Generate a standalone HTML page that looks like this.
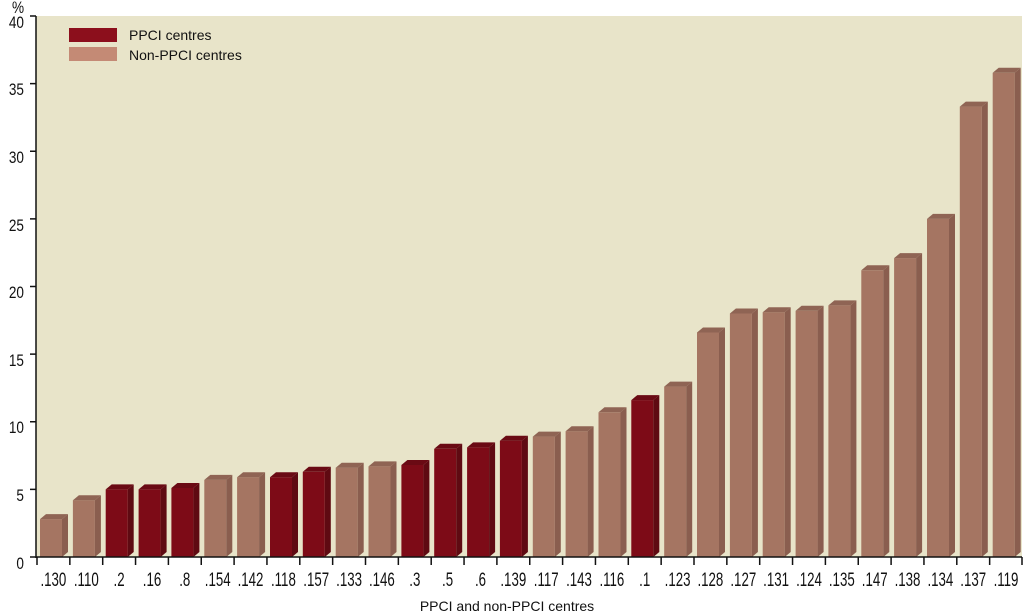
<!DOCTYPE html>
<html><head><meta charset="utf-8"><style>
html,body{margin:0;padding:0;background:#fff;}
svg{display:block;font-family:"Liberation Sans",sans-serif;}
.n rect{fill:#a57562}.n .s{fill:#8a5e4f}.n .t{fill:#8f6454}
.p rect{fill:#7d0b17}.p .s{fill:#5f0a12}.p .t{fill:#6a0a14}
.xl text{font-size:19px;text-anchor:middle;fill:#111;transform-box:fill-box;transform-origin:center;transform:scaleX(0.7);}
.yl text{font-size:17px;text-anchor:end;fill:#111;transform-box:fill-box;transform-origin:right center;transform:scaleX(0.8);}
</style></head><body>
<svg width="1033" height="615" viewBox="0 0 1033 615">
<rect x="36" y="16" width="986" height="541" fill="#e8e4c9"/>
<g class="n"><g transform="translate(40,519.1)"><rect width="22" height="37.9"/><polygon class="s" points="22,0 28,-5 28,32.9 22,37.9"/><polygon class="t" points="0,0 6,-5 28,-5 22,0"/></g></g>
<g class="n"><g transform="translate(72.9,500.2)"><rect width="22" height="56.8"/><polygon class="s" points="22,0 28,-5 28,51.8 22,56.8"/><polygon class="t" points="0,0 6,-5 28,-5 22,0"/></g></g>
<g class="p"><g transform="translate(105.7,489.4)"><rect width="22" height="67.6"/><polygon class="s" points="22,0 28,-5 28,62.6 22,67.6"/><polygon class="t" points="0,0 6,-5 28,-5 22,0"/></g></g>
<g class="p"><g transform="translate(138.6,489.4)"><rect width="22" height="67.6"/><polygon class="s" points="22,0 28,-5 28,62.6 22,67.6"/><polygon class="t" points="0,0 6,-5 28,-5 22,0"/></g></g>
<g class="p"><g transform="translate(171.4,488)"><rect width="22" height="69"/><polygon class="s" points="22,0 28,-5 28,64 22,69"/><polygon class="t" points="0,0 6,-5 28,-5 22,0"/></g></g>
<g class="n"><g transform="translate(204.3,479.9)"><rect width="22" height="77.1"/><polygon class="s" points="22,0 28,-5 28,72.1 22,77.1"/><polygon class="t" points="0,0 6,-5 28,-5 22,0"/></g></g>
<g class="n"><g transform="translate(237.1,477.2)"><rect width="22" height="79.8"/><polygon class="s" points="22,0 28,-5 28,74.8 22,79.8"/><polygon class="t" points="0,0 6,-5 28,-5 22,0"/></g></g>
<g class="p"><g transform="translate(270,477.2)"><rect width="22" height="79.8"/><polygon class="s" points="22,0 28,-5 28,74.8 22,79.8"/><polygon class="t" points="0,0 6,-5 28,-5 22,0"/></g></g>
<g class="p"><g transform="translate(302.8,471.8)"><rect width="22" height="85.2"/><polygon class="s" points="22,0 28,-5 28,80.2 22,85.2"/><polygon class="t" points="0,0 6,-5 28,-5 22,0"/></g></g>
<g class="n"><g transform="translate(335.7,467.7)"><rect width="22" height="89.3"/><polygon class="s" points="22,0 28,-5 28,84.3 22,89.3"/><polygon class="t" points="0,0 6,-5 28,-5 22,0"/></g></g>
<g class="n"><g transform="translate(368.5,466.4)"><rect width="22" height="90.6"/><polygon class="s" points="22,0 28,-5 28,85.6 22,90.6"/><polygon class="t" points="0,0 6,-5 28,-5 22,0"/></g></g>
<g class="p"><g transform="translate(401.4,465)"><rect width="22" height="92"/><polygon class="s" points="22,0 28,-5 28,87 22,92"/><polygon class="t" points="0,0 6,-5 28,-5 22,0"/></g></g>
<g class="p"><g transform="translate(434.2,448.8)"><rect width="22" height="108.2"/><polygon class="s" points="22,0 28,-5 28,103.2 22,108.2"/><polygon class="t" points="0,0 6,-5 28,-5 22,0"/></g></g>
<g class="p"><g transform="translate(467.1,447.4)"><rect width="22" height="109.6"/><polygon class="s" points="22,0 28,-5 28,104.6 22,109.6"/><polygon class="t" points="0,0 6,-5 28,-5 22,0"/></g></g>
<g class="p"><g transform="translate(499.9,440.7)"><rect width="22" height="116.3"/><polygon class="s" points="22,0 28,-5 28,111.3 22,116.3"/><polygon class="t" points="0,0 6,-5 28,-5 22,0"/></g></g>
<g class="n"><g transform="translate(532.8,436.6)"><rect width="22" height="120.4"/><polygon class="s" points="22,0 28,-5 28,115.4 22,120.4"/><polygon class="t" points="0,0 6,-5 28,-5 22,0"/></g></g>
<g class="n"><g transform="translate(565.6,431.2)"><rect width="22" height="125.8"/><polygon class="s" points="22,0 28,-5 28,120.8 22,125.8"/><polygon class="t" points="0,0 6,-5 28,-5 22,0"/></g></g>
<g class="n"><g transform="translate(598.5,412.3)"><rect width="22" height="144.7"/><polygon class="s" points="22,0 28,-5 28,139.7 22,144.7"/><polygon class="t" points="0,0 6,-5 28,-5 22,0"/></g></g>
<g class="p"><g transform="translate(631.3,400.1)"><rect width="22" height="156.9"/><polygon class="s" points="22,0 28,-5 28,151.9 22,156.9"/><polygon class="t" points="0,0 6,-5 28,-5 22,0"/></g></g>
<g class="n"><g transform="translate(664.2,386.6)"><rect width="22" height="170.4"/><polygon class="s" points="22,0 28,-5 28,165.4 22,170.4"/><polygon class="t" points="0,0 6,-5 28,-5 22,0"/></g></g>
<g class="n"><g transform="translate(697,332.5)"><rect width="22" height="224.5"/><polygon class="s" points="22,0 28,-5 28,219.5 22,224.5"/><polygon class="t" points="0,0 6,-5 28,-5 22,0"/></g></g>
<g class="n"><g transform="translate(729.9,313.5)"><rect width="22" height="243.5"/><polygon class="s" points="22,0 28,-5 28,238.5 22,243.5"/><polygon class="t" points="0,0 6,-5 28,-5 22,0"/></g></g>
<g class="n"><g transform="translate(762.7,312.2)"><rect width="22" height="244.8"/><polygon class="s" points="22,0 28,-5 28,239.8 22,244.8"/><polygon class="t" points="0,0 6,-5 28,-5 22,0"/></g></g>
<g class="n"><g transform="translate(795.6,310.8)"><rect width="22" height="246.2"/><polygon class="s" points="22,0 28,-5 28,241.2 22,246.2"/><polygon class="t" points="0,0 6,-5 28,-5 22,0"/></g></g>
<g class="n"><g transform="translate(828.4,305.4)"><rect width="22" height="251.6"/><polygon class="s" points="22,0 28,-5 28,246.6 22,251.6"/><polygon class="t" points="0,0 6,-5 28,-5 22,0"/></g></g>
<g class="n"><g transform="translate(861.3,270.3)"><rect width="22" height="286.7"/><polygon class="s" points="22,0 28,-5 28,281.7 22,286.7"/><polygon class="t" points="0,0 6,-5 28,-5 22,0"/></g></g>
<g class="n"><g transform="translate(894.1,258.1)"><rect width="22" height="298.9"/><polygon class="s" points="22,0 28,-5 28,293.9 22,298.9"/><polygon class="t" points="0,0 6,-5 28,-5 22,0"/></g></g>
<g class="n"><g transform="translate(927,218.9)"><rect width="22" height="338.1"/><polygon class="s" points="22,0 28,-5 28,333.1 22,338.1"/><polygon class="t" points="0,0 6,-5 28,-5 22,0"/></g></g>
<g class="n"><g transform="translate(959.8,106.6)"><rect width="22" height="450.4"/><polygon class="s" points="22,0 28,-5 28,445.4 22,450.4"/><polygon class="t" points="0,0 6,-5 28,-5 22,0"/></g></g>
<g class="n"><g transform="translate(992.7,72.8)"><rect width="22" height="484.2"/><polygon class="s" points="22,0 28,-5 28,479.2 22,484.2"/><polygon class="t" points="0,0 6,-5 28,-5 22,0"/></g></g>

<g stroke="#111" stroke-width="1.5" fill="none">
<line x1="36" y1="16" x2="36" y2="558"/>
<line x1="36" y1="557" x2="1022" y2="557"/>
<path d="M30 16H36M30 83.6H36M30 151.2H36M30 218.9H36M30 286.5H36M30 354.1H36M30 421.7H36M30 489.4H36M30 557H36"/>
<path d="M37 557V565M69.85 557V565M102.7 557V565M135.55 557V565M168.4 557V565M201.25 557V565M234.1 557V565M266.95 557V565M299.8 557V565M332.65 557V565M365.5 557V565M398.35 557V565M431.2 557V565M464.05 557V565M496.9 557V565M529.75 557V565M562.6 557V565M595.45 557V565M628.3 557V565M661.15 557V565M694 557V565M726.85 557V565M759.7 557V565M792.55 557V565M825.4 557V565M858.25 557V565M891.1 557V565M923.95 557V565M956.8 557V565M989.65 557V565M1022 557V565"/>
</g>
<g class="yl">
<text x="24" y="13">%</text>
<text x="24" y="28">40</text><text x="24" y="95">35</text><text x="24" y="163">30</text><text x="24" y="231">25</text><text x="24" y="298">20</text><text x="24" y="366">15</text><text x="24" y="433">10</text><text x="24" y="501">5</text><text x="24" y="569">0</text>
</g>
<g class="xl">
<text x="53.4" y="586">.130</text><text x="86.3" y="586">.110</text><text x="119.1" y="586">.2</text><text x="152" y="586">.16</text><text x="184.8" y="586">.8</text><text x="217.7" y="586">.154</text><text x="250.5" y="586">.142</text><text x="283.4" y="586">.118</text><text x="316.2" y="586">.157</text><text x="349.1" y="586">.133</text><text x="381.9" y="586">.146</text><text x="414.8" y="586">.3</text><text x="447.6" y="586">.5</text><text x="480.5" y="586">.6</text><text x="513.3" y="586">.139</text><text x="546.2" y="586">.117</text><text x="579" y="586">.143</text><text x="611.9" y="586">.116</text><text x="644.7" y="586">.1</text><text x="677.6" y="586">.123</text><text x="710.4" y="586">.128</text><text x="743.3" y="586">.127</text><text x="776.1" y="586">.131</text><text x="809" y="586">.124</text><text x="841.8" y="586">.135</text><text x="874.7" y="586">.147</text><text x="907.5" y="586">.138</text><text x="940.4" y="586">.134</text><text x="973.2" y="586">.137</text><text x="1006" y="586">.119</text>
</g>
<text x="507" y="611" font-size="14" text-anchor="middle" fill="#111">PPCI and non-PPCI centres</text>
<rect x="69" y="28" width="48" height="14" fill="#8c0f1c"/>
<rect x="69" y="47" width="48" height="14" fill="#c48a75"/>
<text x="129" y="40" font-size="14" fill="#111">PPCI centres</text>
<text x="129" y="60" font-size="14" fill="#111">Non-PPCI centres</text>
</svg>
</body></html>
